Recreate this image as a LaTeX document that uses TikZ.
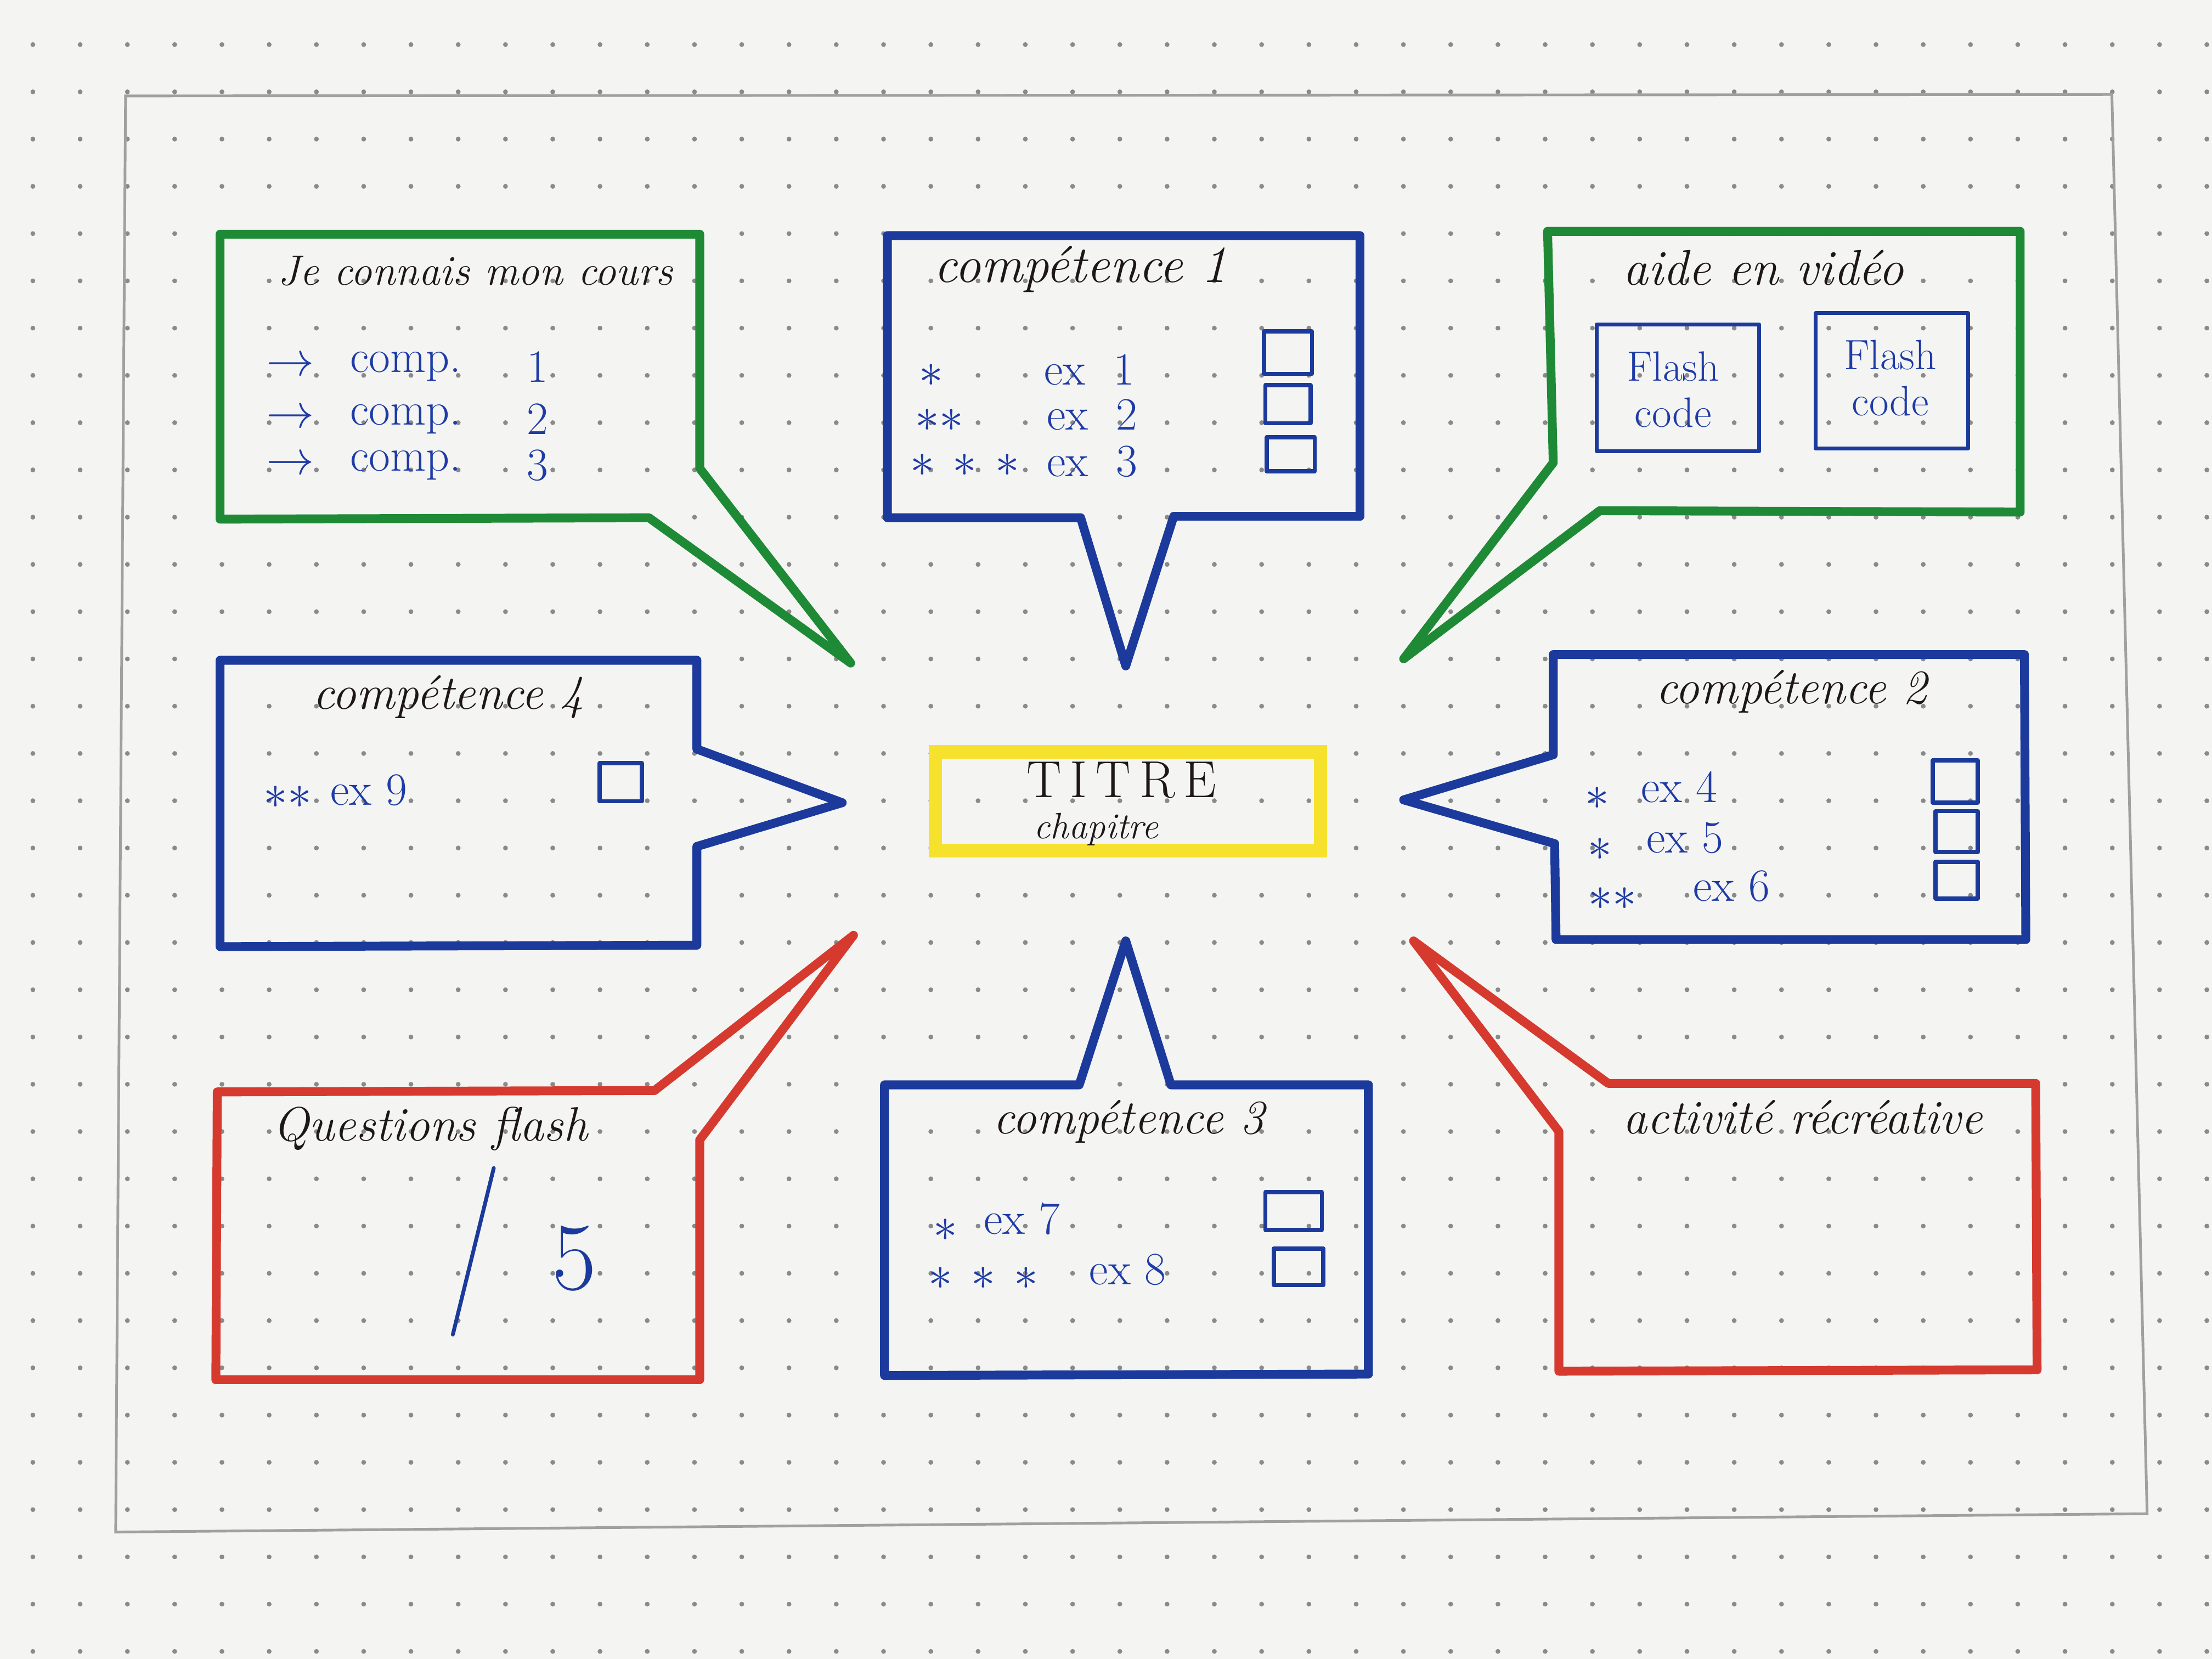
\documentclass[tikz,border=0pt]{standalone}
\usepackage{fontspec}
\definecolor{paper}{HTML}{F4F4F2}
\definecolor{dotgrey}{HTML}{8A8A8A}
\definecolor{pencil}{HTML}{A0A0A0}
\definecolor{penGreen}{HTML}{1E8A36}
\definecolor{penBlue}{HTML}{1B3A9C}
\definecolor{penRed}{HTML}{D63A2F}
\definecolor{penYellow}{HTML}{F6E22C}
\definecolor{ink}{HTML}{1E1719}
\definecolor{itemBlue}{HTML}{1E3BA6}
\begin{document}
\begin{tikzpicture}[x=0.0257143cm,y=-0.0257143cm,
  bubble/.style={line width=4.6pt,line join=round,line cap=round},
  greenbubble/.style={bubble,draw=penGreen},
  bluebubble/.style={bubble,draw=penBlue},
  redbubble/.style={bubble,draw=penRed},
  head/.style={text=ink,font=\fontsize{25}{30}\selectfont\itshape,inner sep=0pt},
  item/.style={text=itemBlue,font=\fontsize{24}{28}\selectfont,inner sep=0pt},
  stars/.style={text=itemBlue,font=\fontsize{28}{32}\selectfont\bfseries,inner sep=0pt},
  tickbox/.style={draw=penBlue,line width=2.2pt,line join=round},
  qrbox/.style={draw=penBlue,line width=2pt,line join=round}]

% paper and dot grid
\fill[paper] (0,0) rectangle (1568,1176);
\useasboundingbox (0,0) rectangle (1568,1176);
\foreach \i in {0,...,46}{
  \foreach \j in {0,...,34}{
    \fill[dotgrey] ({23.3+33.5*\i},{31.6+33.5*\j}) circle (1.7);
  }
}

% pencil frame
\draw[pencil,line width=1.4pt] (89,68) -- (1497,67) -- (1522,1073) -- (82,1086) -- cycle;

% centre title
\node[draw=penYellow,line width=7pt,minimum width=7.02cm,minimum height=1.8cm,inner sep=0pt] (titre) at (799.5,568) {};
\node[text=ink,font=\fontsize{27}{30}\selectfont,inner sep=0pt] (titretxt) at (795,553) {T\,I\,T\,R\,E};
\node[text=ink,font=\fontsize{19}{22}\selectfont\itshape,inner sep=0pt] (chap) at (777,588) {chapitre};

% callout outlines, each ending in a tip that points at the title
\coordinate (tipA) at (603,470);
\coordinate (tipB) at (798,472);
\coordinate (tipC) at (995,467);
\coordinate (tipD) at (597,569);
\coordinate (tipE) at (995,567);
\coordinate (tipF) at (605,663);
\coordinate (tipG) at (798,667);
\coordinate (tipH) at (1002,667);

\draw[greenbubble] (156,166) -- (496,166) -- (496,332) -- (tipA) -- (460,367) -- (156,368) -- cycle;
\draw[bluebubble] (629,167) -- (964,167) -- (964,366) -- (832,366) -- (tipB) -- (766,367) -- (629,367) -- cycle;
\draw[greenbubble] (1097,164) -- (1432,164) -- (1432,363) -- (1134,362) -- (tipC) -- (1101,328) -- cycle;
\draw[bluebubble] (156,468) -- (494,468) -- (494,531) -- (tipD) -- (494,600) -- (494,670) -- (156,671) -- cycle;
\draw[bluebubble] (1101,464) -- (1435,464) -- (1436,666) -- (1103,666) -- (1102,598) -- (tipE) -- (1101,535) -- cycle;
\draw[redbubble] (154,774) -- (464,773) -- (tipF) -- (496,808) -- (496,978) -- (153,978) -- cycle;
\draw[bluebubble] (627,769) -- (765,769) -- (tipG) -- (830,769) -- (970,769) -- (970,974) -- (627,975) -- cycle;
\draw[redbubble] (1140,768) -- (1443,768) -- (1444,971) -- (1105,972) -- (1105,802) -- (tipH) -- cycle;

% Je connais mon cours
\node[head,font=\fontsize{22}{26}\selectfont\itshape] (h1) at (337,192) {Je connais mon cours};
\foreach \y/\n in {260/1,297/2,330/3}{
  \node[item] (arr\n) at (206,\y) {$\rightarrow$};
  \node[item,anchor=west] (comp\n) at (248,\y) {comp.};
  \node[item] (num\n) at (381,\y) {\n};
}

% compétence 1
\node[head,font=\fontsize{27}{30}\selectfont\itshape] (h2) at (766,191) {compétence 1};
\node[stars] (s1) at (660,266) {$\ast$};
\node[stars] (s2) at (666,298) {$\ast\ast$};
\node[stars] (s3) at (684,330) {$\ast\,\ast\,\ast$};
\node[item,anchor=west] (ex1) at (740,262) {ex\ \ 1};
\node[item,anchor=west] (ex2) at (742,294) {ex\ \ 2};
\node[item,anchor=west] (ex3) at (742,327) {ex\ \ 3};
\draw[tickbox] (896,235) rectangle (930,265);
\draw[tickbox] (897,273) rectangle (929,300);
\draw[tickbox] (898,310) rectangle (932,334);

% aide en vidéo
\node[head,font=\fontsize{26}{30}\selectfont\itshape] (h3) at (1250,190) {aide en vidéo};
\draw[qrbox] (1132,230) rectangle (1247,320);
\draw[qrbox] (1287,222) rectangle (1395,318);
\node[item,align=center,font=\fontsize{22}{24}\selectfont] (qr1) at (1186,276) {Flash\\code};
\node[item,align=center,font=\fontsize{22}{24}\selectfont] (qr2) at (1340,268) {Flash\\code};

% compétence 4
\node[head] (h4) at (318,494) {compétence 4};
\node[stars] (s4) at (204,565) {$\ast\ast$};
\node[item,anchor=west] (ex9) at (234,560) {ex 9};
\draw[tickbox] (425,541) rectangle (455,568);

% compétence 2
\node[head] (h5) at (1270,490) {compétence 2};
\node[stars] (s5) at (1132,566) {$\ast$};
\node[stars] (s6) at (1134,602) {$\ast$};
\node[stars] (s7) at (1143,637) {$\ast\ast$};
\node[item,anchor=west] (ex4) at (1163,558) {ex 4};
\node[item,anchor=west] (ex5) at (1167,594) {ex 5};
\node[item,anchor=west] (ex6) at (1200,628) {ex 6};
\draw[tickbox] (1370,539) rectangle (1402,569);
\draw[tickbox] (1372,575) rectangle (1402,604);
\draw[tickbox] (1372,611) rectangle (1402,637);

% Questions flash
\node[head] (h7) at (305,800) {Questions flash};
\draw[penBlue,line width=2pt,line cap=round] (350,828) -- (321,946);
\node[text=penBlue,font=\fontsize{50}{54}\selectfont,inner sep=0pt] (five) at (407,892) {5};

% compétence 3
\node[head] (h8) at (800,795) {compétence 3};
\node[stars] (s8) at (670,872) {$\ast$};
\node[stars] (s9) at (697,906) {$\ast\,\ast\,\ast$};
\node[item,anchor=west] (ex7) at (697,864) {ex 7};
\node[item,anchor=west] (ex8) at (772,900) {ex 8};
\draw[tickbox] (897,845) rectangle (937,872);
\draw[tickbox] (903,885) rectangle (938,911);

% activité récréative
\node[head] (h9) at (1278,792) {activité récréative};

\end{tikzpicture}
\end{document}
